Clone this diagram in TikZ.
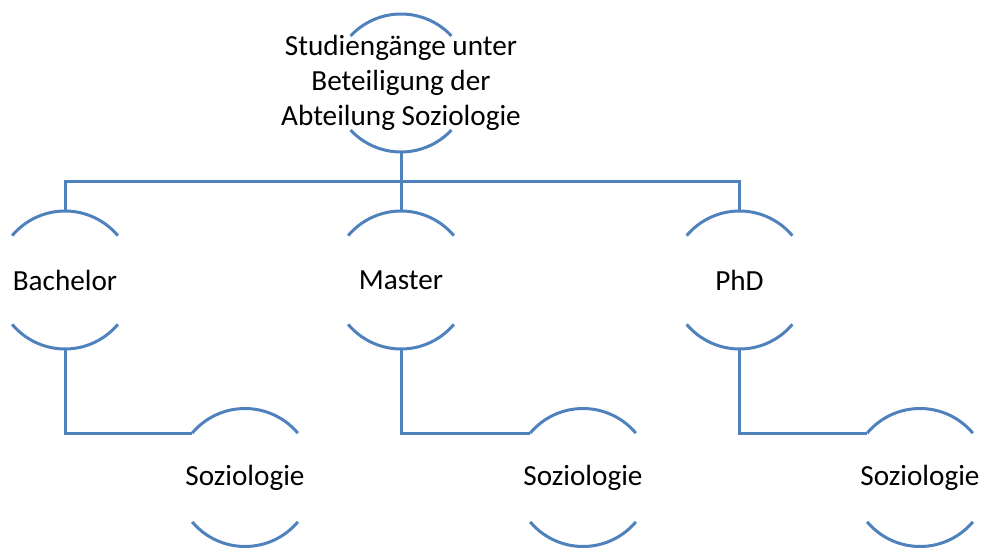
\documentclass[tikz,border=0pt]{standalone}
\usepackage{fontspec}
\setmainfont{Carlito}
\definecolor{arcblue}{RGB}{79,129,189}
\tikzset{
  stage/.style={circle, minimum size=138pt, inner sep=0pt, outer sep=0pt},
  stagetext/.style={font=\fontsize{29.2}{35}\selectfont, align=center, text=black},
  arcline/.style={draw=arcblue, line width=3pt},
  link/.style={draw=arcblue, line width=3pt}
}
\begin{document}
\begin{tikzpicture}[x=1pt, y=1pt]
\useasboundingbox (0, 0) rectangle (983, 550);
\node[stage, label={[stagetext]center:{Studiengänge unter\\Beteiligung der\\Abteilung Soziologie}}] (A) at (401, 467) {};
\node[stage, label={[stagetext]center:Bachelor}] (B) at (65, 270) {};
\node[stage, label={[stagetext]center:Master}] (C) at (401, 270) {};
\node[stage, label={[stagetext]center:PhD}] (D) at (739.5, 270) {};
\node[stage, label={[stagetext]center:Soziologie}] (E) at (245, 72.5) {};
\node[stage, label={[stagetext]center:Soziologie}] (F) at (583, 72.5) {};
\node[stage, label={[stagetext]center:Soziologie}] (G) at (920, 72.5) {};
\coordinate (H) at (401, 368);

% arcs above and below each text
\draw[arcline] (A.43) arc[start angle=43, end angle=137, radius=69];
\draw[arcline] (A.223) arc[start angle=223, end angle=317, radius=69];
\foreach \n in {B, C, D, E, F, G} {
  \draw[arcline] (\n.40) arc[start angle=40, end angle=140, radius=69];
  \draw[arcline] (\n.220) arc[start angle=220, end angle=320, radius=69];
}

\draw[link] (A.south) to (H);
\draw[link] (H) -| (B.north);
\draw[link] (H) to (C.north);
\draw[link] (H) -| (D.north);
\draw[link] (B.south) |- (E.140);
\draw[link] (C.south) |- (F.140);
\draw[link] (D.south) |- (G.140);
\end{tikzpicture}
\end{document}
